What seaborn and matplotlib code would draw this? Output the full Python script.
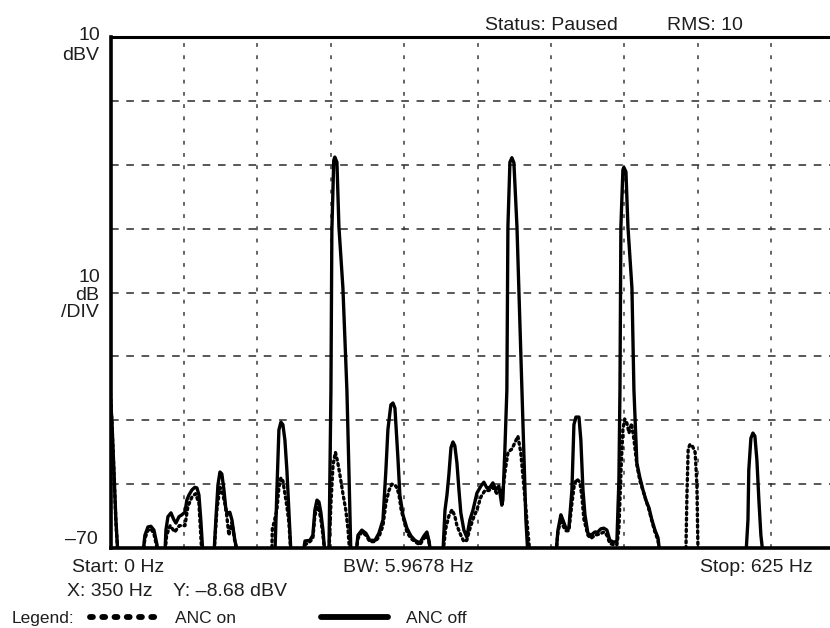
import matplotlib
matplotlib.use("Agg")
import matplotlib.pyplot as plt
import seaborn as sns
import pandas as pd
import numpy as np
from matplotlib.lines import Line2D

# ---------------- data ----------------
off_freq = [0, 1.2, 2.9, 4.6, 6.3,
            27.6, 29.3, 31.9, 34.4, 37.0, 39.6, 40.4,
            46.3, 47.2, 48.9, 51.5, 54.0, 55.7, 58.3, 60.8, 63.4, 65.0, 66.8, 69.4, 71.8, 73.6, 75.3, 76.9, 78.7,
            88.1, 89.7, 91.5, 93.2, 94.8, 96.6, 98.3, 100.0, 101.6, 103.4, 105.9, 108.5,
            140.0, 141.7, 143.4, 145.1, 146.8, 148.5, 150.2, 151.9, 153.7,
            163.9, 165.6, 169.8, 172.3, 174.0, 175.8, 177.5, 179.1, 180.9, 182.6,
            186.0, 187.7, 188.5, 190.1, 191.0, 192.8, 194.5, 197.9, 201.3, 203.0, 204.7,
            209.0, 210.7, 214.0, 217.5, 220.8, 225.2, 228.5, 232.0, 234.5, 236.2, 238.7, 240.5, 242.2,
            244.7, 246.4, 249.0, 252.4, 255.8, 259.2, 263.4, 266.9, 269.4, 271.1, 272.9,
            283.0, 284.8, 286.5, 288.1, 289.9, 291.6, 293.2, 295.0, 296.7, 298.3, 300.9, 303.4,
            306.0, 308.6, 312.0, 315.4, 317.9, 320.5, 323.0, 325.6, 328.1, 330.7, 333.2, 334.1,
            335.8, 337.5, 338.4, 340.1, 341.8, 343.5, 346.1, 347.7, 350.3, 352.1, 353.7, 355.4,
            379.3, 381.0, 383.5, 385.2, 387.8, 390.3, 392.9, 394.6, 396.3, 398.9, 400.5, 402.3,
            404.0, 406.5, 409.1, 412.4, 415.0, 417.5, 420.1, 422.7, 425.2, 428.7, 431.2,
            432.9, 433.8, 434.6, 436.3, 437.1, 438.9, 440.6, 444.0, 445.7, 448.2, 450.8, 453.4,
            455.9, 458.5, 461.0, 463.6, 466.2, 467.8,
            541.1, 542.8, 543.5, 545.3, 547.0, 548.7, 550.4, 552.1, 553.8, 555.6, 625.0]
off_db = [-46.8, -50.0, -57.8, -65.6, -71,
          -71, -68.0, -66.7, -66.6, -67.2, -69.5, -71,
          -71, -67.2, -65.1, -64.5, -65.6, -66.1, -65.1, -64.8, -64.4, -62.5, -61.7, -60.9, -60.5, -60.6, -61.7, -65.6, -71,
          -71, -65.6, -60.1, -58.1, -58.4, -60.9, -64.1, -64.7, -64.4, -65.6, -68.8, -71,
          -71, -60.9, -51.5, -50.3, -50.7, -53.1, -57.8, -64.1, -71,
          -71, -68.9, -68.8, -68.0, -64.1, -62.5, -62.8, -64.4, -67.2, -71,
          -71, -45.3, -20.2, -9.3, -8.8, -9.6, -19.7, -29.3, -45.3, -57.8, -71,
          -71, -68.0, -67.2, -67.7, -68.8, -68.8, -67.7, -65.6, -57.8, -51.5, -47.6, -47.3, -48.1,
          -55.8, -61.7, -64.8, -66.9, -68.1, -68.8, -69.2, -68.1, -67.5, -68.8, -71,
          -71, -64.1, -61.7, -58.6, -54.3, -53.4, -54.0, -56.7, -60.9, -64.5, -67.2, -68.3,
          -65.6, -64.1, -61.4, -60.3, -59.7, -60.6, -60.5, -59.8, -60.9, -60.3, -63.3, -62.5,
          -54.7, -45.3, -19.7, -9.6, -8.9, -9.7, -19.7, -29.3, -45.3, -56.2, -65.6, -71,
          -71, -67.2, -64.8, -65.6, -66.9, -66.9, -60.9, -50.7, -49.5, -49.5, -53.1, -60.9,
          -64.8, -67.7, -68.0, -67.5, -67.5, -67.0, -66.9, -67.2, -68.8, -69.1, -68.9,
          -59.4, -45.3, -19.7, -10.8, -10.4, -11.1, -19.7, -29.3, -45.3, -56.7, -59.0, -60.9,
          -62.5, -63.7, -65.6, -67.2, -68.4, -71,
          -71, -65.6, -57.8, -52.8, -52.0, -52.5, -56.2, -62.5, -68.0, -71, -71]

on_freq = [0, 1.2, 2.9, 4.6, 6.3,
           27.6, 29.3, 31.9, 34.4, 37.0, 39.6,
           46.3, 47.8, 50.8, 54.7, 58.6, 63.4, 65.9, 69.4, 72.4, 75.3, 77.8,
           88.1, 90.6, 93.2, 95.5, 98.3, 100.8, 103.4, 105.9, 108.5,
           137.3, 137.8, 139.3, 141.7, 143.4, 145.1, 146.8, 148.5, 150.2, 151.9, 153.7,
           163.9, 165.6, 169.8, 172.3, 174.0, 175.8, 177.5, 179.1, 180.9, 182.6,
           186.0, 187.7, 189.5, 191.5, 193.4, 195.3, 197.9, 200.3, 202.2, 203.8,
           209.0, 210.7, 214.0, 217.5, 220.8, 225.2, 228.5, 232.0, 234.5, 237.1, 239.6, 243.1,
           245.5, 247.5, 252.4, 255.8, 259.2, 263.4, 266.9, 269.4, 271.1, 272.9,
           283.0, 285.4, 288.1, 290.8, 293.2, 295.0, 298.3, 300.9, 303.4, 306.0, 308.6, 312.0,
           315.4, 318.8, 322.2, 325.6, 329.0, 332.1, 334.1, 336.0, 338.5, 341.8, 344.4, 346.9,
           349.3, 351.3, 353.3, 355.2, 357.2,
           379.3, 381.0, 383.5, 385.2, 387.8, 390.3, 392.9, 395.0, 397.1, 399.7, 401.4, 403.1,
           406.5, 409.1, 412.4, 416.8, 420.1, 422.7, 425.2, 428.7, 431.2,
           432.9, 434.9, 436.3, 437.8, 439.8, 441.5, 443.7, 445.7, 448.2, 450.8, 453.4, 455.9,
           458.5, 461.0, 463.6, 466.2, 467.8,
           489.9, 490.8, 491.9, 493.4, 495.4, 497.8, 499.3, 500.3, 625.0]
on_db = [-45.8, -50.5, -58.0, -66.0, -71,
         -71, -68.5, -67.2, -67.0, -67.8, -70,
         -71, -68.0, -66.5, -67.5, -66.5, -66.5, -63.5, -62.0, -61.5, -63.0, -71,
         -71, -64.0, -60.5, -61.5, -63.8, -68.0, -66.0, -69.0, -71,
         -71, -67.0, -66.0, -64.0, -60.5, -59.0, -59.5, -61.5, -63.5, -66.0, -71,
         -71, -69.5, -69.0, -68.5, -65.0, -63.5, -64.0, -65.5, -68.0, -71,
         -71, -63.0, -57.0, -55.0, -56.5, -58.5, -61.5, -64.0, -67.0, -71,
         -71, -68.5, -67.5, -68.0, -69.0, -69.0, -68.3, -66.5, -63.0, -61.0, -60.0, -60.3,
         -61.5, -64.0, -67.5, -68.5, -69.0, -69.5, -68.5, -68.0, -69.0, -71,
         -71, -67.0, -65.0, -64.0, -65.0, -66.5, -68.0, -69.0, -68.8, -67.0, -65.5, -64.0,
         -62.0, -61.0, -61.0, -60.5, -61.5, -61.0, -61.0, -58.0, -55.0, -54.5, -53.5, -52.5,
         -55.0, -59.0, -63.0, -67.0, -71,
         -71, -67.5, -65.5, -66.5, -67.3, -67.3, -63.0, -60.0, -59.2, -59.7, -62.0, -65.5,
         -68.0, -68.5, -68.0, -67.8, -67.5, -68.0, -69.3, -69.5, -69.5,
         -67.0, -57.0, -51.5, -49.8, -50.5, -52.0, -50.5, -53.0, -57.0, -59.5, -61.0, -62.5,
         -64.0, -65.8, -67.5, -68.8, -71,
         -71, -62.0, -54.5, -53.8, -54.0, -55.0, -60.0, -71, -71]

x_ticks = [0, 62.5, 125, 187.5, 250, 312.5, 375, 437.5, 500, 562.5, 625]
y_ticks = [-70, -60, -50, -40, -30, -20, -10, 0, 10]

df_off = pd.DataFrame({"freq": off_freq, "db": off_db})
df_on = pd.DataFrame({"freq": on_freq, "db": on_db})

# ---------------- style ----------------
sns.set_theme(style="white")
plt.rcParams["font.family"] = ["Liberation Sans", "DejaVu Sans"]
TXT = "#1e1e1e"

W, H = 830, 628
fig = plt.figure(figsize=(W / 100, H / 100), dpi=100)
# the analyser screen runs slightly past the right edge of the picture
ax = fig.add_axes([110.5 / W, 80 / H, 734 / W, 511 / H])

sns.lineplot(data=df_on, x="freq", y="db", ax=ax, color="black", lw=2.4,
             estimator=None, sort=False, zorder=3,
             linestyle=(0, (0.6, 1.1)), dash_capstyle="round")
sns.lineplot(data=df_off, x="freq", y="db", ax=ax, color="black", lw=2.4,
             estimator=None, sort=False, zorder=4, solid_joinstyle="round")

ax.set_xlim(0, 625)
ax.set_ylim(-70, 10)
ax.set_xticks(x_ticks)
ax.set_yticks(y_ticks)
ax.set_xticklabels([])
ax.set_yticklabels([])
ax.tick_params(length=0)
ax.set_xlabel("")
ax.set_ylabel("")
ax.xaxis.grid(True, color="#3a3a3a", lw=1.1, linestyle=(0, (2.5, 5.5)))
ax.yaxis.grid(True, color="#2a2a2a", lw=1.1, linestyle=(0, (5, 5)))
ax.set_axisbelow(True)

for side in ["left", "bottom", "top"]:
    ax.spines[side].set_visible(True)
    ax.spines[side].set_color("black")
ax.spines["left"].set_linewidth(2.6)
ax.spines["bottom"].set_linewidth(2.6)
ax.spines["top"].set_linewidth(2.2)
ax.spines["right"].set_visible(False)

def ftext(x, y, s, ha="left", size=14):
    fig.text(x / W, 1 - y / H, s, ha=ha, va="center", fontsize=size, color=TXT)

# y axis annotations
ftext(100, 35, "10", ha="right")
ftext(99, 55, "dBV", ha="right")
ftext(100, 278, "10", ha="right")
ftext(99, 296, "dB", ha="right")
ftext(99, 313, "/DIV", ha="right")
ftext(98, 540, "\u201370", ha="right")

# header
ftext(485, 25, "Status: Paused")
ftext(667, 25, "RMS: 10")

# footer
ftext(72, 567, "Start: 0 Hz")
ftext(67, 592, "X: 350 Hz")
ftext(173, 592, "Y: \u20138.68 dBV")
ftext(343, 568, "BW: 5.9678 Hz")
ftext(813, 568, "Stop: 625 Hz", ha="right")

# legend
ftext(12, 618, "Legend:", size=12.5)
h_on = Line2D([], [], color="black", lw=4.2, linestyle=(0, (0.5, 1.6)),
              dash_capstyle="round")
h_off = Line2D([], [], color="black", lw=4.2, solid_capstyle="round")
leg = fig.legend([h_on, h_off], ["ANC on", "ANC off"], ncol=2,
                 loc="center left", bbox_to_anchor=(90 / W, 1 - 618 / H),
                 frameon=False, fontsize=12.5, handlelength=3.85,
                 handletextpad=1.05, columnspacing=4.9, borderpad=0,
                 borderaxespad=0)
for t in leg.get_texts():
    t.set_color(TXT)

fig.savefig("out.png", dpi=100)
